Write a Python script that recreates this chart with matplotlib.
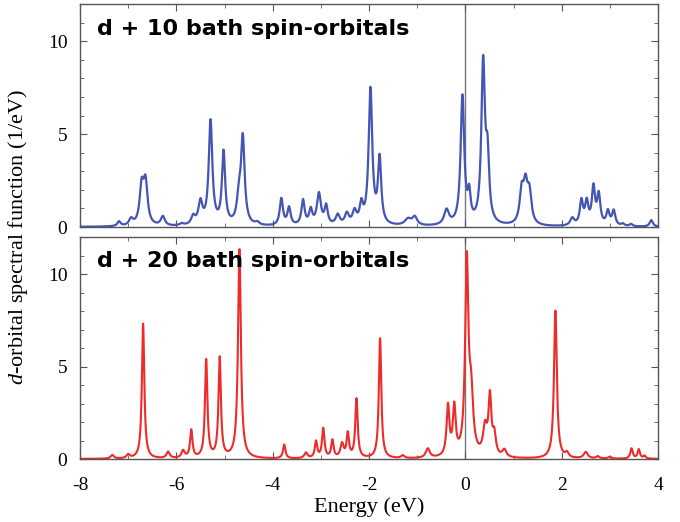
import numpy as np
import matplotlib

matplotlib.use("Agg")
from matplotlib import pyplot as plt
from matplotlib.ticker import MultipleLocator

plt.rcParams["font.family"] = "Liberation Serif"
plt.rcParams["mathtext.fontset"] = "custom"
plt.rcParams["mathtext.it"] = "Liberation Serif:italic"
plt.rcParams["mathtext.rm"] = "Liberation Serif"
plt.rcParams["axes.unicode_minus"] = False

# Peaks: centre (eV), height (1/eV), half width (eV)
top_centers = [-7.19, -6.94, -6.72, -6.64, -6.28, -5.89, -5.65, -5.50, -5.29, -5.02,
               -4.70, -4.62, -4.32, -3.82, -3.66, -3.37, -3.21, -3.04, -2.89, -2.65,
               -2.46, -2.30, -2.16, -1.97, -1.78, -1.19, -1.05, -0.39, -0.06, 0.08,
               0.37, 0.46, 1.17, 1.25, 1.33, 2.22, 2.41, 2.52, 2.66,
               2.77, 2.96, 3.08, 3.27, 3.44, 3.86]
top_heights = [0.25, 0.35, 2.0, 2.2, 0.5, 0.1, 0.45, 1.2, 5.6, 3.9,
               1.3, 4.6, 0.15, 1.45, 0.95, 1.35, 0.8, 1.7, 1.0, 0.55,
               0.6, 0.7, 1.0, 7.3, 3.5, 0.35, 0.45, 0.8, 6.9, 1.4,
               8.6, 3.2, 1.7, 1.9, 1.6, 0.4, 1.3, 1.2, 2.0,
               1.6, 0.75, 0.8, 0.12, 0.12, 0.35]
top_widths = [0.04, 0.05, 0.05, 0.05, 0.05, 0.05, 0.05, 0.05, 0.045, 0.04,
              0.05, 0.045, 0.05, 0.04, 0.04, 0.04, 0.04, 0.05, 0.04, 0.05,
              0.05, 0.05, 0.04, 0.045, 0.04, 0.08, 0.06, 0.06, 0.045, 0.035,
              0.045, 0.04, 0.05, 0.05, 0.05, 0.05, 0.04, 0.04, 0.04,
              0.04, 0.04, 0.04, 0.04, 0.04, 0.04]

bot_centers = [-7.33, -7.00, -6.69, -6.17, -5.86, -5.69, -5.38, -5.10, -4.69, -3.76,
               -3.31, -3.10, -2.95, -2.76, -2.56, -2.44, -2.26, -1.77, -1.30, -0.78,
               -0.36, -0.23, 0.03, 0.12, 0.41, 0.51, 0.60, 0.81, 1.87, 2.11,
               2.50, 2.75, 3.00, 3.45, 3.60, 3.72]
bot_heights = [0.2, 0.2, 7.3, 0.35, 0.4, 1.5, 5.3, 5.4, 11.3, 0.75,
               0.3, 0.9, 1.6, 0.95, 0.75, 1.3, 3.2, 6.5, 0.15, 0.5,
               2.7, 2.6, 10.4, 3.0, 1.5, 3.1, 1.1, 0.4, 8.0, 0.25,
               0.35, 0.12, 0.1, 0.55, 0.5, 0.15]
bot_widths = [0.04, 0.04, 0.03, 0.04, 0.04, 0.03, 0.03, 0.03, 0.035, 0.03,
              0.04, 0.03, 0.03, 0.03, 0.04, 0.03, 0.03, 0.03, 0.04, 0.05,
              0.035, 0.035, 0.04, 0.05, 0.05, 0.035, 0.04, 0.05, 0.035, 0.04,
              0.05, 0.04, 0.04, 0.03, 0.03, 0.03]

energy = np.linspace(-8, 4, 6000)


def spectrum(centers, heights, widths):
    out = np.zeros_like(energy)
    for c, h, w in zip(centers, heights, widths):
        out += h * w**2 / ((energy - c) ** 2 + w**2)
    return out


fig = plt.figure(figsize=(6.8, 5.22), dpi=100)
ax_top = fig.add_axes([80 / 680, 1 - 227 / 522, 578 / 680, 223 / 522])
ax_bot = fig.add_axes([80 / 680, 1 - 459 / 522, 578 / 680, 222 / 522])

panels = [
    (ax_top, spectrum(top_centers, top_heights, top_widths), "#4455b5", 1.6,
     "d + 10 bath spin-orbitals"),
    (ax_bot, spectrum(bot_centers, bot_heights, bot_widths), "#ee2a2a", 1.5,
     "d + 20 bath spin-orbitals"),
]
for ax, curve, color, lw, title in panels:
    ax.axvline(0, color="#777777", lw=1.0, zorder=1)
    ax.plot(energy, curve, color=color, lw=lw, zorder=2)
    ax.set_xlim(-8, 4)
    ax.set_ylim(0, 12)
    ax.xaxis.set_major_locator(MultipleLocator(2))
    ax.xaxis.set_minor_locator(MultipleLocator(1))
    ax.yaxis.set_major_locator(MultipleLocator(5))
    ax.yaxis.set_minor_locator(MultipleLocator(1))
    ax.tick_params(which="both", direction="in", top=True, right=True,
                   color="#555555", labelsize=14)
    ax.tick_params(axis="y", pad=9)
    ax.tick_params(axis="x", pad=13)
    ax.tick_params(which="major", length=5)
    ax.tick_params(which="minor", length=3)
    for sp in ax.spines.values():
        sp.set_color("#555555")
        sp.set_linewidth(1.0)
    ax.text(0.03, 0.89, title, transform=ax.transAxes, family="DejaVu Sans",
            fontweight="bold", fontsize=16, va="center", ha="left")

ax_top.tick_params(labelbottom=False)
ax_bot.set_xlabel("Energy (eV)", fontsize=16, labelpad=2)
fig.text(18 / 680, 1 - 237 / 522, "$d$-orbital spectral function (1/eV)",
         rotation=90, ha="center", va="center", fontsize=16)

fig.savefig("out.png", dpi=100)
